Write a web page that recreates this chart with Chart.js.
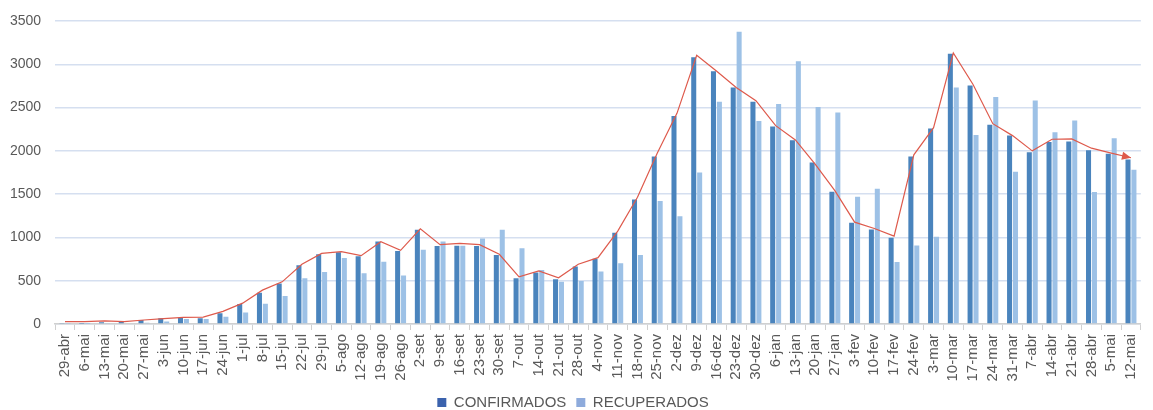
<!DOCTYPE html>
<html>
<head>
<meta charset="utf-8">
<script src="https://cdn.jsdelivr.net/npm/chart.js@4.4.1/dist/chart.umd.min.js"></script>
<style>
html,body{margin:0;padding:0;background:#fff;}
#wrap{width:1153px;height:410px;position:relative;}
</style>
</head>
<body>
<div id="wrap"><canvas id="c" width="1153" height="410"></canvas></div>
<script>
const categories = ["29-abr","6-mai","13-mai","20-mai","27-mai","3-jun","10-jun","17-jun","24-jun","1-jul","8-jul","15-jul","22-jul","29-jul","5-ago","12-ago","19-ago","26-ago","2-set","9-set","16-set","23-set","30-set","7-out","14-out","21-out","28-out","4-nov","11-nov","18-nov","25-nov","2-dez","9-dez","16-dez","23-dez","30-dez","6-jan","13-jan","20-jan","27-jan","3-fev","10-fev","17-fev","24-fev","3-mar","10-mar","17-mar","24-mar","31-mar","7-abr","14-abr","21-abr","28-abr","5-mai","12-mai"];

const confirmados = [5,3,20,27,45,65,70,65,123,230,360,467,678,805,828,782,954,843,1088,900,904,900,797,529,594,517,663,755,1054,1437,1935,2402,3080,2920,2732,2567,2280,2123,1866,1529,1169,1092,996,1935,2257,3123,2755,2303,2176,1985,2103,2107,2008,1966,1900];

const recuperados = [2,1,6,10,15,30,58,58,84,134,234,322,529,601,762,586,720,559,858,954,904,989,1088,874,625,487,498,605,701,797,1421,1245,1751,2567,3375,2345,2540,3034,2506,2444,1471,1563,716,908,1008,2732,2184,2621,1759,2582,2215,2352,1525,2146,1782];

const tendencia = [27,27,35,27,46,61,77,80,146,241,391,487,690,816,835,789,950,851,1100,916,931,916,805,544,613,533,690,766,1073,1464,1973,2433,3103,2923,2732,2579,2291,2126,1847,1540,1176,1103,1015,1954,2268,3130,2766,2314,2176,2000,2134,2138,2031,1973,1920];

const yTicks = [0,500,1000,1500,2000,2500,3000,3500];

const FONT = "'Liberation Sans', Arial, sans-serif";
const RED = '#de5a4c';

const arrowPlugin = {
  id: 'arrowEnd',
  afterDatasetsDraw(chart) {
    const meta = chart.getDatasetMeta(2);
    if (!meta || !meta.data.length) return;
    const pts = meta.data;
    const p1 = pts[pts.length - 2], p2 = pts[pts.length - 1];
    const ang = Math.atan2(p2.y - p1.y, p2.x - p1.x);
    const ctx = chart.ctx;
    const L = 9, W = 4;
    ctx.save();
    ctx.translate(p2.x, p2.y);
    ctx.rotate(ang);
    ctx.beginPath();
    ctx.moveTo(0, 0);
    ctx.lineTo(-L, -W);
    ctx.lineTo(-L, W);
    ctx.closePath();
    ctx.fillStyle = RED;
    ctx.fill();
    ctx.restore();
  }
};

new Chart(document.getElementById('c'), {
  type: 'bar',
  data: {
    labels: categories,
    datasets: [
      { label: 'CONFIRMADOS', data: confirmados, backgroundColor: '#4a84bd', order: 1,
        categoryPercentage: 0.6, barPercentage: 0.85 },
      { label: 'RECUPERADOS', data: recuperados, backgroundColor: '#9dc1e6', order: 1,
        categoryPercentage: 0.6, barPercentage: 0.85 },
      { type: 'line', label: 'tendencia', data: tendencia, borderColor: RED, borderWidth: 1.2,
        pointRadius: 0, tension: 0, fill: false, order: 0 }
    ]
  },
  options: {
    responsive: false,
    animation: false,
    devicePixelRatio: 1,
    layout: { padding: { top: 4, left: -4, right: 3, bottom: -10 } },
    plugins: {
      tooltip: { enabled: false },
      legend: {
        position: 'bottom',
        labels: {
          font: { family: FONT, size: 15 },
          color: '#595959',
          boxWidth: 9, boxHeight: 9,
          padding: 10,
          generateLabels: (chart) => [
            { text: 'CONFIRMADOS', fillStyle: '#3b62ad', strokeStyle: '#3b62ad', lineWidth: 0, datasetIndex: 0, fontColor: '#595959' },
            { text: 'RECUPERADOS', fillStyle: '#8eabdc', strokeStyle: '#8eabdc', lineWidth: 0, datasetIndex: 1, fontColor: '#595959' }
          ]
        }
      }
    },
    scales: {
      x: {
        offset: true,
        afterFit: (scale) => { scale.height = 61; },
        grid: { display: true, drawOnChartArea: false, drawTicks: true, tickLength: 6, color: '#d0d0d0', offset: true },
        border: { display: true, color: '#d0d0d0', width: 1.5 },
        ticks: { autoSkip: false, minRotation: 90, maxRotation: 90, color: '#595959', font: { family: FONT, size: 15 }, padding: 4 }
      },
      y: {
        min: 0, max: 3500,
        afterBuildTicks: (axis) => { axis.ticks = yTicks.map(v => ({ value: v })); },
        grid: { color: '#d5dff0', lineWidth: 1.5, drawTicks: false },
        border: { display: false },
        ticks: { color: '#595959', font: { family: FONT, size: 14, lineHeight: 1 }, padding: 14, callback: (v) => String(v) }
      }
    }
  },
  plugins: [arrowPlugin]
});
</script>
</body>
</html>
